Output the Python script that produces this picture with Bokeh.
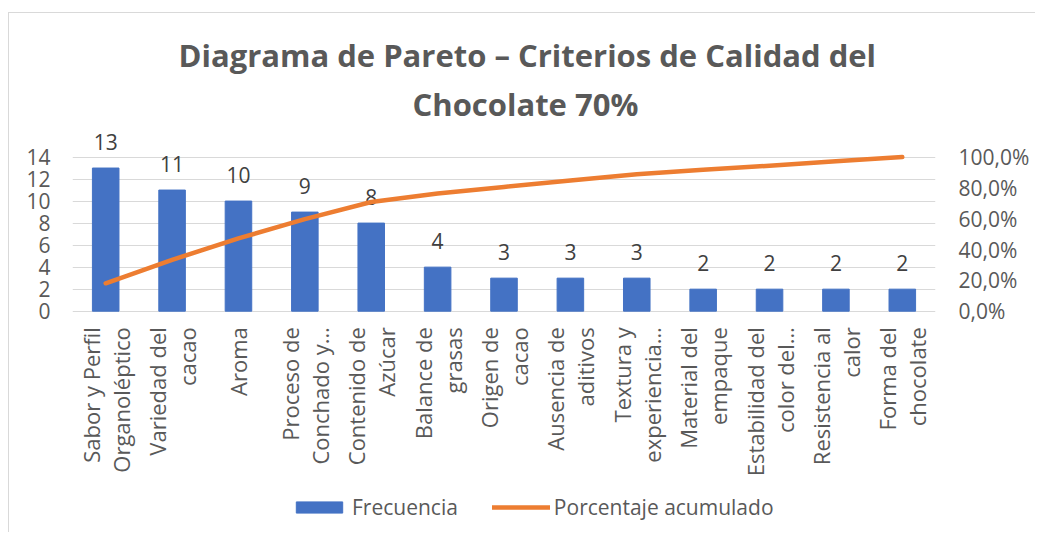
import math
from bokeh.plotting import figure
from bokeh.models import (Range1d, LinearAxis, FixedTicker, Legend, LegendItem,
                          ColumnDataSource, Title)
from bokeh.core.properties import value
from bokeh.embed import file_html
from bokeh.resources import INLINE

# ---- data ----
categories = [
    "Sabor y Perfil\nOrganoléptico",
    "Variedad del\ncacao",
    "Aroma",
    "Proceso de\nConchado y…",
    "Contenido de\nAzúcar",
    "Balance de\ngrasas",
    "Origen de\ncacao",
    "Ausencia de\naditivos",
    "Textura y\nexperiencia…",
    "Material del\nempaque",
    "Estabilidad del\ncolor del…",
    "Resistencia al\ncalor",
    "Forma del\nchocolate",
]
frecuencia = [13, 11, 10, 9, 8, 4, 3, 3, 3, 2, 2, 2, 2]
porcentaje_acumulado = [18.1, 33.3, 47.2, 59.7, 70.8, 76.4, 80.6, 84.7, 88.9, 91.7, 94.4, 97.2, 100.0]
freq_labels = [str(v) for v in frecuencia]

left_ticks = [0, 2, 4, 6, 8, 10, 12, 14]
pct_ticks = [0, 20, 40, 60, 80, 100]
pct_tick_labels = ["0,0%", "20,0%", "40,0%", "60,0%", "80,0%", "100,0%"]

title_line1 = "Diagrama de Pareto – Criterios de Calidad del"
title_line2 = "Chocolate 70%"

GRAY = "#595959"
FONT = "Open Sans"

# left axis spans 0..14; the frame extends below 0 to hold the category labels
# and the legend
Y_MIN, Y_MAX, Y_TOP_TICK = -20.1, 16.5, 14
PCT_MAX = 100

src = ColumnDataSource(dict(cat=categories, freq=frecuencia,
                            pct=porcentaje_acumulado, lab=freq_labels,
                            zero=[0] * len(categories)))

p = figure(frame_width=863, frame_height=403, x_range=categories,
           y_range=Range1d(Y_MIN, Y_MAX), title=None,
           output_backend="svg", toolbar_location=None,
           min_border_left=63, min_border_right=100,
           min_border_top=116, min_border_bottom=0)
p.styles = {"border-left": "1px solid #d9d9d9", "border-top": "1px solid #d9d9d9",
            "margin-top": "12px", "margin-left": "8px"}
p.outline_line_color = None
p.background_fill_color = "white"
p.border_fill_color = "white"

p.extra_y_ranges = {"pct": Range1d(Y_MIN / Y_TOP_TICK * PCT_MAX,
                                   Y_MAX / Y_TOP_TICK * PCT_MAX)}

# titles (first added is closest to the plot)
t2 = Title(text=title_line2, align="left", text_font=FONT, text_font_style="bold",
           text_font_size="31px", text_color=GRAY, standoff=9, offset=340)
t1 = Title(text=title_line1, align="left", text_font=FONT, text_font_style="bold",
           text_font_size="31px", text_color=GRAY, standoff=2, offset=106)
p.add_layout(t2, "above")
p.add_layout(t1, "above")

# bars
bars = p.vbar(x="cat", top="freq", width=0.4, source=src, color="#4472C4")
# data labels
p.text(x="cat", y="freq", text="lab", source=src, text_align="center",
       text_baseline="alphabetic", y_offset=-26, text_font_size="21px",
       text_color="#404040", text_font=value(FONT))
# category labels
p.text(x="cat", y="zero", text="cat", source=src, angle=math.pi / 2,
       text_align="right", text_baseline="middle", y_offset=16,
       text_font_size="22px", text_color=GRAY, text_font=value(FONT),
       text_line_height=1.0)
# cumulative line
line = p.line(x="cat", y="pct", source=src, y_range_name="pct",
              line_color="#ED7D31", line_width=4.5, line_cap="round", line_join="round")

# axes
p.xaxis.visible = False

p.yaxis.ticker = FixedTicker(ticks=left_ticks)
p.yaxis.axis_line_color = None
p.yaxis.major_tick_line_color = None
p.yaxis.minor_tick_line_color = None
p.yaxis.major_tick_out = 0
p.yaxis.minor_tick_out = 0
p.yaxis.major_label_text_font = FONT
p.yaxis.major_label_text_font_size = "21px"
p.yaxis.major_label_text_color = GRAY
p.yaxis.major_label_standoff = 22

p.ygrid.ticker = FixedTicker(ticks=left_ticks)
p.ygrid.grid_line_color = "#d9d9d9"
p.xgrid.grid_line_color = None

rax = LinearAxis(y_range_name="pct", ticker=FixedTicker(ticks=pct_ticks),
                 major_label_overrides={t: l for t, l in zip(pct_ticks, pct_tick_labels)})
rax.axis_line_color = None
rax.major_tick_line_color = None
rax.minor_tick_line_color = None
rax.major_tick_out = 0
rax.minor_tick_out = 0
rax.major_label_text_font = FONT
rax.major_label_text_font_size = "21px"
rax.major_label_text_color = GRAY
rax.major_label_standoff = 23
p.add_layout(rax, "right")

legend = Legend(items=[LegendItem(label="Frecuencia", renderers=[bars]),
                       LegendItem(label="Porcentaje acumulado", renderers=[line])],
                orientation="horizontal", location=(218, 11))
legend.border_line_color = None
legend.background_fill_alpha = 0
legend.padding = 0
legend.glyph_width = 58
legend.glyph_height = 14
legend.label_text_font = FONT
legend.label_text_font_size = "21px"
legend.label_text_color = GRAY
legend.label_standoff = 4
legend.spacing = 34
legend.margin = 0
p.add_layout(legend, "center")

open("out.html", "w").write(file_html(p, INLINE))
